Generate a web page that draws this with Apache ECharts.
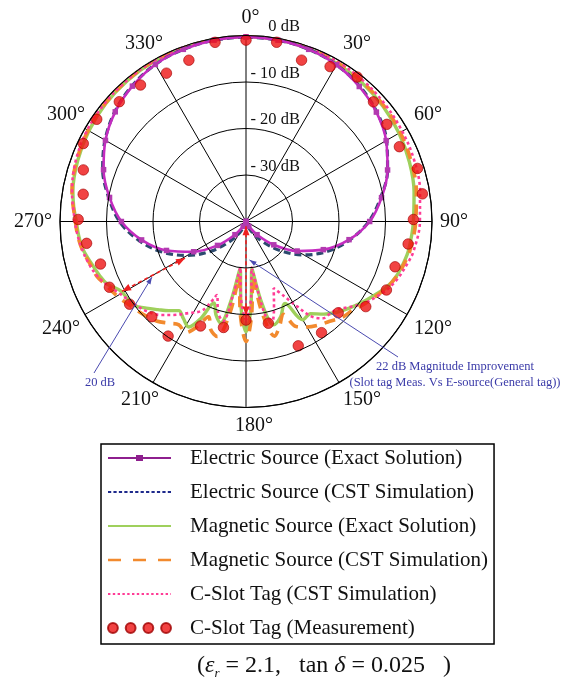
<!DOCTYPE html>
<html><head><meta charset="utf-8">
<script src="https://cdn.jsdelivr.net/npm/echarts@6/dist/echarts.min.js"></script>
<style>html,body{margin:0;padding:0;background:#fff}#c{width:567px;height:688px}</style>
</head><body><div id="c"></div>
<script>
// ---- data: [angle (deg), level (dB)] ----
const angleTicks = [0, 30, 60, 90, 120, 150, 180, 210, 240, 270, 300, 330];
const radiusTicks = [-40, -30, -20, -10, 0];

const electricExact = [[0,-0.3],[10,-0.4],[20,-0.6],[30,-1.1],[40,-2.1],[50,-3.4],[60,-5.2],[70,-7.6],[80,-10.4],[90,-13.4],[100,-17.5],[110,-22.3],[120,-27.3],[130,-32.2],[140,-36.3],[150,-38.8],[160,-39.8],[170,-40],[180,-40],[190,-40],[200,-39.8],[210,-38.8],[220,-36.3],[230,-32.0],[240,-27.0],[250,-21.8],[260,-17.2],[270,-13.2],[280,-10.2],[290,-7.4],[300,-5.1],[310,-3.3],[320,-2.0],[330,-1.0],[340,-0.6],[350,-0.4],[360,-0.3]];

const electricCST = [[0,-0.3],[10,-0.4],[20,-0.6],[30,-1.1],[40,-2.0],[50,-3.3],[60,-5.1],[70,-7.6],[80,-10.6],[90,-13.6],[100,-17.3],[110,-21.3],[120,-25.6],[130,-30.2],[140,-34.2],[150,-37.2],[160,-39.0],[170,-39.8],[180,-40],[190,-39.8],[200,-39.0],[210,-37.2],[220,-34.2],[230,-30.0],[240,-25.4],[250,-20.8],[260,-16.6],[270,-12.8],[280,-10.0],[290,-7.2],[300,-5.0],[310,-3.2],[320,-1.9],[330,-1.0],[340,-0.6],[350,-0.4],[360,-0.3]];

const magneticExact = [[0,-0.2],[10,-0.3],[20,-0.5],[30,-0.8],[40,-1.1],[50,-1.5],[60,-2.0],[70,-2.6],[80,-3.3],[90,-4.0],[100,-4.5],[105,-5.0],[110,-5.6],[115,-6.6],[120,-8.2],[125,-9.6],[130,-11.0],[135,-12.4],[140,-14.0],[145,-15.8],[150,-15.6],[154.5,-20.5],[160,-18.2],[165,-17.0],[169,-22],[173,-29.8],[176.5,-22],[180,-16.3],[183.5,-22],[187,-29.8],[191,-22],[194,-17.5],[198,-19],[201.5,-21.2],[205,-17],[208.5,-14.2],[213,-15.2],[217,-16.0],[221,-14.6],[225,-13.2],[229,-11.6],[233,-10.0],[237,-9.6],[241,-9.2],[246,-7.2],[250,-6.4],[254,-5.7],[260,-4.5],[265,-3.9],[270,-3.5],[275,-2.8],[280,-2.2],[290,-1.5],[300,-1.0],[310,-0.6],[320,-0.4],[330,-0.3],[340,-0.2],[350,-0.2],[360,-0.2]];

const magneticCST = [[0,-0.1],[10,-0.2],[20,-0.4],[30,-0.6],[40,-0.9],[50,-1.3],[60,-1.7],[70,-2.2],[80,-2.8],[90,-3.5],[100,-4.2],[105,-4.8],[110,-5.5],[115,-6.5],[120,-7.8],[125,-9.0],[130,-10.2],[135,-10.8],[140,-12.0],[145,-12.8],[150,-13.8],[154.5,-15.0],[158,-18.5],[162,-16.5],[166,-14.6],[170,-20],[173,-28],[176.5,-20],[180,-14.2],[183.5,-20],[187,-28],[190,-20],[194,-14.5],[198,-15.5],[201.5,-18],[205,-15],[208.5,-12.8],[213,-13.5],[217,-12.6],[222,-11.2],[228,-10.2],[233,-9.4],[240,-8.0],[246,-6.8],[250,-5.8],[255,-5.2],[260,-4.3],[265,-3.7],[270,-3.3],[280,-2.0],[290,-1.3],[300,-0.8],[310,-0.5],[320,-0.3],[330,-0.2],[340,-0.1],[350,-0.1],[360,-0.1]];

const slotCST = [[0,-0.2],[10,-0.2],[20,-0.3],[30,-0.4],[40,-0.6],[50,-0.9],[60,-1.2],[70,-1.5],[80,-2.0],[90,-2.6],[100,-3.4],[105,-4.2],[111,-5.2],[116,-6.4],[120,-7.6],[125,-9.2],[130,-11.3],[134,-12.8],[138,-13.2],[141.5,-13.4],[145,-14.9],[149,-18.7],[153,-22],[157.5,-24.5],[161,-21.5],[165,-18],[168,-19],[170,-24],[173,-30],[176,-24],[180,-19],[184,-24],[187,-30],[190,-24],[193,-18],[197,-19.5],[201.5,-23],[206,-18.8],[212.8,-16.5],[218,-14.5],[222.6,-12.7],[228,-11.2],[233,-10.2],[240,-8.8],[246,-7.0],[250,-5.9],[255,-5.0],[260,-4.3],[265,-3.7],[270,-3.2],[280,-2.0],[290,-1.1],[300,-0.6],[310,-0.4],[320,-0.3],[330,-0.2],[340,-0.2],[350,-0.2],[360,-0.2]];

const slotMeasured = [[0,-1.0],[9.7,-0.9],[19,-3.3],[28.5,-2.1],[37.6,-0.8],[46.8,-2.4],[55.4,-3.2],[64,-3.3],[72.8,-1.4],[81.1,-1.6],[89.3,-4.0],[97.9,-4.8],[106.9,-6.5],[116,-6.4],[125.4,-8.4],[134.7,-12.1],[145.8,-11.1],[157.2,-11.0],[167.6,-17.6],[180,-18.8],[192,-16.7],[203.5,-15.5],[214.2,-10.2],[224.7,-11.2],[234.6,-9.3],[244.3,-7.4],[253.7,-7.4],[262.2,-5.4],[270.7,-3.9],[279.5,-4.5],[287.6,-3.3],[295.6,-1.2],[304.4,-1.1],[313.4,-2.5],[322.3,-2.9],[331.8,-3.8],[340.5,-3.2],[350.2,-0.9]];

// annotation anchors [angle, dB]
const gapArrow = [[239, -24.7], [240.6, -9.4]];
const improveArrow = [[180, -39], [180, -19.8]];
const gapPointer = [239.4, -16.5];
const improvePointer = [174.8, -31.7];

const names = ['Electric Source (Exact Solution)','Electric Source (CST Simulation)','Magnetic Source (Exact Solution)','Magnetic Source (CST Simulation)','C-Slot Tag (CST Simulation)','C-Slot Tag (Measurement)'];

const toPolar = arr => arr.map(p => [p[1], p[0]]);
const SERIF = 'Liberation Serif';

// legend icons drawn as paths (line styles of the original legend)
function dashIcon(total, dash, gap, th) {
  let d = '';
  for (let x = 0; x < total - 0.5; x += dash + gap) {
    const x2 = Math.min(x + dash, total);
    d += 'M' + x + ',0L' + x2 + ',0L' + x2 + ',' + th + 'L' + x + ',' + th + 'Z';
  }
  return 'path://' + d;
}
const iconMagenta = 'path://M0,2L28,2L28,0L35,0L35,2L63,2L63,4L35,4L35,6L28,6L28,4L0,4Z';
const iconBlue = dashIcon(63, 3.2, 2.2, 1.8);
const iconGreen = 'path://M0,0L63,0L63,2.2L0,2.2Z';
const iconOrange = dashIcon(63, 13, 12, 2.6);
const iconPink = dashIcon(63, 2.4, 2.4, 2);
const iconDots = 'path://M0,5a5,5 0 1,0 10,0a5,5 0 1,0 -10,0ZM18,5a5,5 0 1,0 10,0a5,5 0 1,0 -10,0ZM36,5a5,5 0 1,0 10,0a5,5 0 1,0 -10,0ZM54,5a5,5 0 1,0 10,0a5,5 0 1,0 -10,0Z';

// left-side / bottom angle labels shifted slightly like the original
const labelBoxW = {0: 9, 180: 22, 210: 28, 240: 36, 270: 38, 300: 31, 330: 24};
const rich = {};
Object.keys(labelBoxW).forEach(k => {
  rich['a' + k] = {width: labelBoxW[k], align: 'left', fontSize: 20, fontFamily: SERIF, color: '#111'};
});

const chart = echarts.init(document.getElementById('c'), null, {renderer: 'canvas'});
const option = {
  animation: false,
  backgroundColor: '#fff',
  polar: {center: [246, 221.5], radius: 186},
  angleAxis: {
    type: 'value', min: 0, max: 360, interval: 30, startAngle: 90, clockwise: true,
    axisLine: {show: true, lineStyle: {color: '#000', width: 1.2}},
    axisTick: {show: false},
    splitLine: {show: true, lineStyle: {color: '#000', width: 1}},
    axisLabel: {
      margin: 8, fontSize: 20, fontFamily: SERIF, color: '#111',
      formatter: v => v === 360 ? '' : (labelBoxW[v] !== undefined ? '{a' + v + '|' + v + '°}' : v + '°'),
      rich: rich
    }
  },
  radiusAxis: {
    type: 'value', min: -40, max: 0, interval: 10,
    axisLine: {show: false}, axisTick: {show: false},
    splitLine: {show: true, lineStyle: {color: '#000', width: 1}},
    axisLabel: {
      margin: -54, align: 'right', verticalAlign: 'bottom',
      fontSize: 16.5, fontFamily: SERIF, color: '#111',
      formatter: v => v === -40 ? '' : (v === 0 ? '0 dB' : '- ' + Math.abs(v) + ' dB')
    },
    z: 10
  },
  legend: {
    orient: 'vertical', left: 101, top: 444,
    padding: [2, 6, 4, 6], itemGap: 10, itemWidth: 63, itemHeight: 14,
    borderColor: '#000', borderWidth: 1.5, backgroundColor: '#fff',
    textStyle: {fontFamily: SERIF, fontSize: 21, color: '#111', lineHeight: 24, padding: [0, 0, 0, 14]},
    data: [
      {name: names[0], icon: iconMagenta, itemStyle: {color: '#8E1F8E'}},
      {name: names[1], icon: iconBlue, itemStyle: {color: '#1E2A8C'}},
      {name: names[2], icon: iconGreen, itemStyle: {color: '#9FD05C'}},
      {name: names[3], icon: iconOrange, itemStyle: {color: '#F28A2E'}},
      {name: names[4], icon: iconPink, itemStyle: {color: '#FF3C96'}},
      {name: names[5], icon: iconDots, itemStyle: {color: '#EE1414'}}
    ]
  },
  title: {
    left: 192, top: 647,
    text: '{p|(}{e|ε}{s|r}{p| = 2.1,   tan }{e|δ}{p| = 0.025   )}',
    textStyle: {
      fontWeight: 'normal',
      rich: {
        p: {fontFamily: SERIF, fontSize: 24, fontWeight: 'normal', color: '#111', lineHeight: 28},
        e: {fontFamily: SERIF, fontSize: 24, fontWeight: 'normal', fontStyle: 'italic', color: '#111', lineHeight: 28},
        s: {fontFamily: SERIF, fontSize: 13, fontWeight: 'normal', fontStyle: 'italic', color: '#111', lineHeight: 28, verticalAlign: 'bottom'}
      }
    }
  },
  series: [
    {name: names[2], type: 'line', coordinateSystem: 'polar', data: toPolar(magneticExact), smooth: 0.35,
      showSymbol: false, symbol: 'none', lineStyle: {color: '#9FD05C', width: 3.4}, itemStyle: {color: '#9FD05C'}, z: 2},
    {name: names[3], type: 'line', coordinateSystem: 'polar', data: toPolar(magneticCST), smooth: 0.35,
      showSymbol: false, symbol: 'none', lineStyle: {color: '#F28A2E', width: 3.6, type: [11, 8]}, itemStyle: {color: '#F28A2E'}, z: 3},
    {name: names[4], type: 'line', coordinateSystem: 'polar', data: toPolar(slotCST), smooth: 0.35,
      showSymbol: false, symbol: 'none', lineStyle: {color: '#FF3C96', width: 2.6, type: [3, 3]}, itemStyle: {color: '#FF3C96'}, z: 4},
    {name: names[1], type: 'line', coordinateSystem: 'polar', data: toPolar(electricCST), smooth: 0.35,
      showSymbol: false, symbol: 'none', lineStyle: {color: '#2C4A6E', width: 3.2, type: [7, 4]}, itemStyle: {color: '#1E2A8C'}, z: 5},
    {name: names[0], type: 'line', coordinateSystem: 'polar', data: toPolar(electricExact), smooth: 0.35,
      symbol: 'rect', symbolSize: 5.5, showSymbol: true, showAllSymbol: true,
      lineStyle: {color: '#C42CC0', width: 2.6}, itemStyle: {color: '#B23AB0'}, z: 6},
    {name: names[5], type: 'scatter', coordinateSystem: 'polar', data: toPolar(slotMeasured),
      symbol: 'circle', symbolSize: 10.5, itemStyle: {color: '#EE1414', borderColor: '#A00000', borderWidth: 0.8}, z: 8}
  ]
};
chart.setOption(option);

// ---- annotations (positions from the polar scale) ----
const px = p => chart.convertToPixel({seriesIndex: 0}, [p[1], p[0]]);
function head(from, to, len, half) {
  const dx = to[0] - from[0], dy = to[1] - from[1], L = Math.hypot(dx, dy) || 1;
  const ux = dx / L, uy = dy / L, bx = to[0] - ux * len, by = to[1] - uy * len;
  return [[to[0], to[1]], [bx - uy * half, by + ux * half], [bx + uy * half, by - ux * half]];
}
const g = [];
function dblArrow(a, b, color) {
  const A = px(a), B = px(b);
  g.push({type: 'line', shape: {x1: A[0], y1: A[1], x2: B[0], y2: B[1]}, style: {stroke: color, lineWidth: 1.6, lineDash: [4, 3]}, z: 100});
  g.push({type: 'polygon', shape: {points: head(B, A, 9, 3.5)}, style: {fill: color}, z: 100});
  g.push({type: 'polygon', shape: {points: head(A, B, 9, 3.5)}, style: {fill: color}, z: 100});
}
function pointer(start, endData, color) {
  const E = px(endData);
  g.push({type: 'line', shape: {x1: start[0], y1: start[1], x2: E[0], y2: E[1]}, style: {stroke: color, lineWidth: 1}, z: 100});
  g.push({type: 'polygon', shape: {points: head(start, E, 7, 2.5)}, style: {fill: color}, z: 100});
}
dblArrow(gapArrow[0], gapArrow[1], '#EE2020');
dblArrow(improveArrow[0], improveArrow[1], '#EE2020');
pointer([94, 373], gapPointer, '#4A4AB0');
pointer([398, 357], improvePointer, '#4A4AB0');
const annFont = {fontFamily: SERIF, fontSize: 12.5, fill: '#3A3AA8'};
g.push({type: 'text', x: 100, y: 383, style: Object.assign({text: '20 dB', align: 'center', verticalAlign: 'middle'}, annFont), z: 100});
g.push({type: 'text', x: 455, y: 367, style: Object.assign({text: '22 dB Magnitude Improvement', align: 'center', verticalAlign: 'middle'}, annFont), z: 100});
g.push({type: 'text', x: 455, y: 383, style: Object.assign({text: '(Slot tag Meas. Vs E-source(General tag))', align: 'center', verticalAlign: 'middle'}, annFont), z: 100});
chart.setOption({graphic: g});
</script></body></html>
